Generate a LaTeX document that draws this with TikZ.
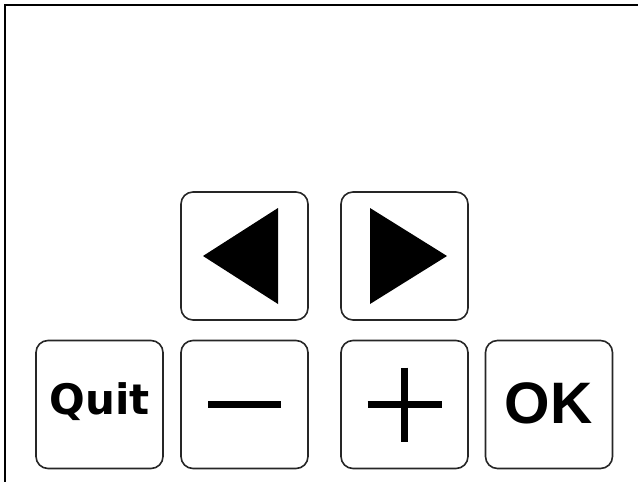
\documentclass[tikz,border=0pt]{standalone}
\usepackage{fontspec}
\newfontfamily\keyfont{DejaVu Sans}
\newfontfamily\okfont{Liberation Sans}
\usetikzlibrary{positioning}

\tikzset{
  key/.style={draw=black!85, line width=1.6pt, rounded corners=12pt,
    minimum width=127pt, minimum height=128pt, inner sep=0pt},
  bar/.style={line width=7pt},
  keytext/.style={anchor=base, inner sep=0pt}
}

\begin{document}
\begin{tikzpicture}[x=1pt,y=-1pt]
    \useasboundingbox (0,0) rectangle (638,482);
    % screen frame
    \draw[line width=2.5pt] (5,482) -- (5,5) -- (638,5);

    % arrow keys
    \node[key] (btnleft) at (244.5,256) {};
    \node[key] (btnright) at (404.5,256) {};
    \fill ([xshift=-41.5pt]btnleft.center) -- ([xshift=33.5pt,yshift=48pt]btnleft.center)
        -- ([xshift=33.5pt,yshift=-48pt]btnleft.center) -- cycle;
    \fill ([xshift=42.5pt]btnright.center) -- ([xshift=-34.5pt,yshift=48pt]btnright.center)
        -- ([xshift=-34.5pt,yshift=-48pt]btnright.center) -- cycle;

    % bottom row
    \node[key] (btnquit) at (99.5,404.5) {};
    \node[key] (btnminus) at (244.5,404.5) {};
    \node[key] (btnplus) at (404.5,404.5) {};
    \node[key] (btnok) at (549,404.5) {};
    \node[keytext, font=\keyfont\bfseries\fontsize{42}{42}\selectfont] (quittext) at (100,414) {Quit};
    \node[keytext, font=\okfont\bfseries\fontsize{58.5}{58.5}\selectfont] (oktext) at (548.5,423) {OK};
    \draw[bar] ([xshift=-36.5pt]btnminus.center) -- ([xshift=36.5pt]btnminus.center);
    \draw[bar] ([xshift=-37pt]btnplus.center) -- ([xshift=37pt]btnplus.center);
    \draw[bar] ([yshift=37pt]btnplus.center) -- ([yshift=-37pt]btnplus.center);
\end{tikzpicture}
\end{document}
